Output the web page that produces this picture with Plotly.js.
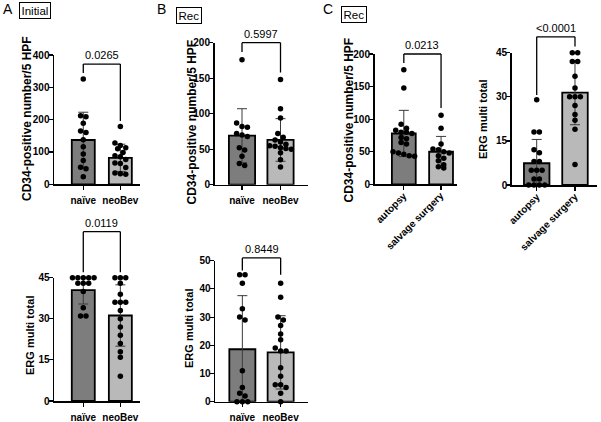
<!DOCTYPE html>
<html><head><meta charset="utf-8">
<script src="https://cdn.plot.ly/plotly-3.0.1.min.js"></script>
<style>html,body{margin:0;padding:0;background:#fff}#chart{width:601px;height:422px}</style>
</head><body><div id="chart"></div>
<script>
// ---------------- DATA ----------------
const catsNaiveNeo = ['naïve', 'neoBev'];
const catsAutSalv = ['autopsy', 'salvage surgery'];

// A (Initial) CD34-positive number/5 HPF
const cd34InitialNaive = [326, 212, 209, 189, 165, 160, 138, 116, 94, 74, 53, 48, 23];
const cd34InitialNeoBev = [179, 128, 120, 113, 110, 98, 88, 85, 77, 66, 64, 52, 35, 33, 31];
const cd34InitialMean = [137, 82];
const cd34InitialSD = [86, 42];
const pCd34Initial = '0.0265';

// A (Initial) ERG multi total
const ergInitialNaive = [45, 45, 45, 45, 45, 43, 43, 43, 40, 34, 31, 31];
const ergInitialNeoBev = [45, 45, 45, 43, 39, 36, 36, 36, 33, 30, 27, 24, 21, 18, 16, 9];
const ergInitialMean = [40.5, 31.2];
const ergInitialSD = [5.1, 11.2];
const pErgInitial = '0.0119';

// B (Rec) CD34
const cd34RecNaive = [176, 87, 82, 81, 72, 70, 68, 52, 49, 40, 30, 27];
const cd34RecNeoBev = [148, 107, 94, 72, 67, 63, 60, 57, 55, 54, 52, 51, 50, 45, 35, 25];
const cd34RecMean = [69, 63];
const cd34RecSD = [38, 30];
const pCd34Rec = '0.5997';

// B (Rec) ERG
const ergRecNaive = [45, 45, 42, 33, 30, 29, 11, 5, 3, 2, 0, 0, 0];
const ergRecNeoBev = [42, 37, 30, 29, 27, 24, 22, 19, 18, 18, 12, 9, 6, 6, 5, 3, 0];
const ergRecMean = [18.6, 17.5];
const ergRecSD = [19, 13];
const pErgRec = '0.8449';

// C (Rec) CD34 autopsy vs salvage surgery
const cd34Autopsy = [176, 148, 92, 86, 83, 80, 80, 78, 72, 70, 64, 62, 50, 48, 46, 44, 43];
const cd34Salvage = [106, 86, 62, 54, 53, 50, 48, 44, 40, 36, 30, 27, 25];
const cd34SiteMean = [78, 50];
const cd34SiteSD = [35.5, 23.5];
const pCd34Site = '0.0213';

// C (Rec) ERG autopsy vs salvage surgery
const ergAutopsy = [29, 18, 18, 12, 11, 8, 8, 5, 5, 5, 2, 2, 0, 0, 0, 0];
const ergSalvage = [45, 45, 42, 42, 37, 33, 30, 30, 30, 27, 24, 22, 19, 7];
const ergSiteMean = [7.4, 31.4];
const ergSiteSD = [8.1, 10.9];
const pErgSite = '<0.0001';

// ---------------- LAYOUT CONFIG ----------------
const W = 601, H = 422;
const FONT = 'Liberation Sans, Arial, sans-serif';
const DARK = '#7d7d7d', LIGHT = '#b9b9b9';

const panels = [
  {cats: catsNaiveNeo, groups: [cd34InitialNaive, cd34InitialNeoBev], mean: cd34InitialMean, sd: cd34InitialSD, p: pCd34Initial,
   xpx: [54, 140], xr: [-0.79, 1.53], ypx: [55, 184.3], ymax: 400, dtick: 100, bw: 0.62,
   br: [372, 344, 196], title: 'CD34-positive number/5 HPF', tsize: 12, tpos: [27, 119], angle: 0},
  {cats: catsNaiveNeo, groups: [ergInitialNaive, ergInitialNeoBev], mean: ergInitialMean, sd: ergInitialSD, p: pErgInitial,
   xpx: [54, 140], xr: [-0.79, 1.53], ypx: [277.7, 401], ymax: 45, dtick: 15, bw: 0.62,
   br: [61.8, 47, 47], title: 'ERG multi total', tsize: 11, tpos: [30, 336], angle: 0},
  {cats: catsNaiveNeo, groups: [cd34RecNaive, cd34RecNeoBev], mean: cd34RecMean, sd: cd34RecSD, p: pCd34Rec,
   xpx: [214.5, 308], xr: [-0.714, 1.714], ypx: [42.7, 184.7], ymax: 200, dtick: 50, bw: 0.68,
   br: [200, 187, 158], title: 'CD34-positive number/5 HPF', tsize: 12, tpos: [191.5, 122], angle: 0},
  {cats: catsNaiveNeo, groups: [ergRecNaive, ergRecNeoBev], mean: ergRecMean, sd: ergRecSD, p: pErgRec,
   xpx: [215, 308], xr: [-0.714, 1.714], ypx: [260.7, 401.7], ymax: 50, dtick: 10, bw: 0.68,
   br: [51, 46.5, 45], title: 'ERG multi total', tsize: 11, tpos: [189, 329], angle: 0},
  {cats: catsAutSalv, groups: [cd34Autopsy, cd34Salvage], mean: cd34SiteMean, sd: cd34SiteSD, p: pCd34Site,
   xpx: [374.5, 456.7], xr: [-0.787, 1.42], ypx: [54, 184.3], ymax: 200, dtick: 50, bw: 0.64,
   br: [200, 186, 117], title: 'CD34-positive number/5 HPF', tsize: 12, tpos: [348.5, 120], angle: -45},
  {cats: catsAutSalv, groups: [ergAutopsy, ergSalvage], mean: ergSiteMean, sd: ergSiteSD, p: pErgSite,
   xpx: [511.7, 596.7], xr: [-0.653, 1.567], ypx: [52.7, 185], ymax: 45, dtick: 15, bw: 0.666,
   br: [50.4, 30.6, 47.1], title: 'ERG multi total', tsize: 11, tpos: [483, 119], angle: -45}
];

// beeswarm-like row placement (GraphPad style)
function swarm(values, pxPerY, pxPerX, d) {
  const s = values.slice().sort((a, b) => b - a);
  const xs = [], ys = [];
  let i = 0;
  while (i < s.length) {
    let j = i;
    while (j < s.length && (s[i] - s[j]) * pxPerY < d * 0.9) j++;
    const n = j - i;
    for (let k = 0; k < n; k++) { xs.push((k - (n - 1) / 2) * d / pxPerX); ys.push(s[i + k]); }
    i = j;
  }
  return {xs, ys};
}

// text width measurement for rotated category labels
const cv = document.createElement('canvas').getContext('2d');
cv.font = 'bold 10px "Liberation Sans", Arial, sans-serif';
const textW = t => cv.measureText(t).width;

const traces = [], shapes = [], annotations = [];
const layout = {
  width: W, height: H, margin: {l: 0, r: 0, t: 0, b: 0},
  paper_bgcolor: '#fff', plot_bgcolor: 'rgba(0,0,0,0)', showlegend: false,
  font: {family: FONT, color: '#000'}, hovermode: false
};

panels.forEach((P, idx) => {
  const n = idx + 1, sfx = n === 1 ? '' : String(n);
  const xa = 'x' + sfx, ya = 'y' + sfx;
  const pxPerX = (P.xpx[1] - P.xpx[0]) / (P.xr[1] - P.xr[0]);
  const pxPerY = (P.ypx[1] - P.ypx[0]) / P.ymax;

  traces.push({
    type: 'bar', x: [0, 1], y: P.mean, xaxis: xa, yaxis: ya, width: P.bw,
    marker: {color: [DARK, LIGHT], line: {color: '#000', width: 1.8}},
    error_y: {type: 'data', array: P.sd, visible: true, color: '#3a3a3a', thickness: 1, width: 5}
  });
  const dx = [], dy = [];
  P.groups.forEach((vals, g) => {
    const sw = swarm(vals, pxPerY, pxPerX, 5.4);
    sw.xs.forEach((o, k) => { dx.push(g + o); dy.push(sw.ys[k]); });
  });
  traces.push({
    type: 'scatter', mode: 'markers', x: dx, y: dy, xaxis: xa, yaxis: ya, cliponaxis: false,
    marker: {color: '#000', size: 5.5, line: {width: 0}}
  });

  const tv = [];
  for (let v = 0; v <= P.ymax + 1e-9; v += P.dtick) tv.push(v);
  const rotated = P.angle !== 0;
  layout['xaxis' + sfx] = {
    domain: [P.xpx[0] / W, P.xpx[1] / W], range: P.xr, anchor: ya,
    tickmode: 'array', tickvals: [0, 1], ticktext: P.cats, showticklabels: !rotated, ticklabelstandoff: 2,
    showline: true, linecolor: '#000', linewidth: 1.5, ticks: 'outside', ticklen: 4, tickwidth: 1.2, tickcolor: '#000',
    tickfont: {family: FONT, size: 10, weight: 'bold', color: '#000'}, showgrid: false, zeroline: false, fixedrange: true
  };
  layout['yaxis' + sfx] = {
    domain: [1 - P.ypx[1] / H, 1 - P.ypx[0] / H], range: [0, P.ymax], anchor: xa,
    tickmode: 'array', tickvals: tv, ticktext: tv.map(String), ticklabelstandoff: -3,
    showline: true, linecolor: '#000', linewidth: 1.5, ticks: 'outside', ticklen: 4, tickwidth: 1.2, tickcolor: '#000',
    tickfont: {family: FONT, size: 10, weight: 'bold', color: '#000'}, showgrid: false, zeroline: false, fixedrange: true
  };

  const fx = v => (v - P.xr[0]) / (P.xr[1] - P.xr[0]);
  const fy = v => v / P.ymax;
  const xd = xa + ' domain', yd = ya + ' domain';

  // rotated category labels (45 degrees, text ending at the tick)
  if (rotated) {
    P.cats.forEach((c, g) => {
      const half = textW(c) / 2 + 1;
      const k = Math.SQRT1_2;
      annotations.push({xref: xd, yref: yd, x: fx(g), y: 0, xanchor: 'center', yanchor: 'middle',
        xshift: 2 - half * k, yshift: -(9 + half * k), textangle: P.angle, showarrow: false, text: c,
        font: {family: FONT, size: 10, weight: 'bold', color: '#000'}});
    });
  }

  // significance bracket
  const ln = {color: '#000', width: 1.3};
  shapes.push({type: 'line', xref: xd, yref: yd, x0: fx(0), x1: fx(0), y0: fy(P.br[1]), y1: fy(P.br[0]), line: ln});
  shapes.push({type: 'line', xref: xd, yref: yd, x0: fx(0), x1: fx(1), y0: fy(P.br[0]), y1: fy(P.br[0]), line: ln});
  shapes.push({type: 'line', xref: xd, yref: yd, x0: fx(1), x1: fx(1), y0: fy(P.br[2]), y1: fy(P.br[0]), line: ln});
  annotations.push({xref: xd, yref: yd, x: fx(0.5), y: fy(P.br[0]), xanchor: 'center', yanchor: 'bottom', yshift: 1,
    showarrow: false, text: P.p, font: {family: FONT, size: 11, color: '#000'}});
  // y title
  annotations.push({xref: 'paper', yref: 'paper', x: P.tpos[0] / W, y: 1 - P.tpos[1] / H, xanchor: 'center', yanchor: 'middle',
    textangle: -90, showarrow: false, text: P.title, font: {family: FONT, size: P.tsize, weight: 'bold', color: '#000'}});
});

// panel letters and boxed labels
const letters = [['A', 7.5, 8.5], ['B', 161, 9], ['C', 328, 9]];
letters.forEach(l => annotations.push({xref: 'paper', yref: 'paper', x: l[1] / W, y: 1 - l[2] / H, xanchor: 'center', yanchor: 'middle',
  showarrow: false, text: l[0], font: {family: FONT, size: 14, color: '#000'}}));
const boxes = [['Initial', 34.5, 10.5], ['Rec', 188.7, 15.3], ['Rec', 353.5, 14.5]];
boxes.forEach(b => annotations.push({xref: 'paper', yref: 'paper', x: b[1] / W, y: 1 - b[2] / H, xanchor: 'center', yanchor: 'middle',
  showarrow: false, text: b[0], font: {family: FONT, size: 11.5, color: '#000'}, bordercolor: '#000', borderwidth: 1, borderpad: 1.5}));

layout.shapes = shapes;
layout.annotations = annotations;
Plotly.newPlot('chart', traces, layout, {staticPlot: true, displayModeBar: false});
</script></body></html>
